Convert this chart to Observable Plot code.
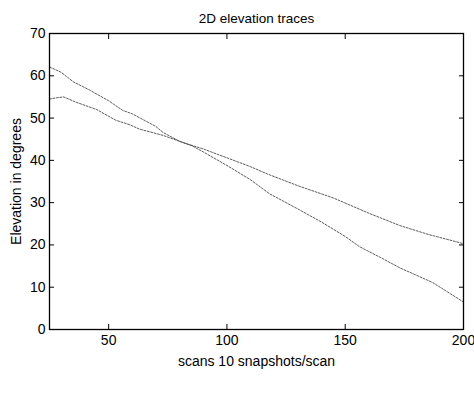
<!DOCTYPE html>
<html><head><meta charset="utf-8">
<script src="https://cdn.jsdelivr.net/npm/d3@7"></script>
<script src="https://cdn.jsdelivr.net/npm/@observablehq/plot@0.6"></script>
<style>body{margin:0;background:#fff}</style>
</head><body><div id="c"></div>
<script>
const title = "2D elevation traces";
const xLabel = "scans 10 snapshots/scan";
const yLabel = "Elevation in degrees";
const xTicks = [50, 100, 150, 200];
const yTicks = [0, 10, 20, 30, 40, 50, 60, 70];

const traceAX = [25, 30, 35, 42, 50, 56, 60, 65, 70, 73, 80, 85, 90, 100, 110, 118, 130, 140, 150, 156, 165, 173, 187, 200];
const traceAY = [62.1, 60.8, 58.6, 56.6, 54.1, 51.8, 51, 49.5, 48, 46.6, 44.5, 43.5, 42, 38.8, 35.4, 32.1, 28.5, 25.4, 22, 19.6, 17, 14.6, 11.1, 6.5];
const traceBX = [25, 28, 31, 36, 45, 53, 59, 63, 73, 82, 90, 100, 110, 117, 130, 145, 160, 173, 185, 200];
const traceBY = [54.5, 54.8, 55, 53.8, 52, 49.5, 48.4, 47.4, 45.9, 44.1, 42.7, 40.6, 38.5, 36.8, 34, 31.1, 27.5, 24.6, 22.5, 20.3];

const A = traceAX.map((x, i) => ({x, y: traceAY[i]}));
const B = traceBX.map((x, i) => ({x, y: traceBY[i]}));

const chart = Plot.plot({
  width: 474, height: 399,
  marginLeft: 49, marginRight: 11, marginTop: 33, marginBottom: 70,
  style: {fontFamily: "Liberation Sans, Arial, sans-serif", fontSize: "14px", color: "#000", background: "#fff"},
  x: {domain: [25, 200]},
  y: {domain: [0, 70]},
  marks: [
    Plot.line(A, {x: "x", y: "y", stroke: "#333", strokeWidth: 0.8, strokeDasharray: "2,1.5"}),
    Plot.line(B, {x: "x", y: "y", stroke: "#333", strokeWidth: 0.8, strokeDasharray: "2,1.5"}),
    Plot.frame({stroke: "#000", strokeWidth: 1.3}),
    Plot.axisX({anchor: "bottom", ticks: xTicks, tickSize: -5, tickPadding: 11, label: xLabel, labelAnchor: "center", labelArrow: "none", labelOffset: 36, fontSize: 14}),
    Plot.axisX({anchor: "top", ticks: xTicks, tickSize: -5, tickFormat: () => "", label: null}),
    Plot.axisY({anchor: "left", ticks: yTicks, tickSize: -5, tickPadding: 9, label: yLabel, labelAnchor: "center", labelArrow: "none", labelOffset: 38, fontSize: 14}),
    Plot.axisY({anchor: "right", ticks: yTicks, tickSize: -5, tickFormat: () => "", label: null}),
    Plot.text([title], {frameAnchor: "top", dy: -20, text: d => d, fontSize: 13.5})
  ]
});
document.getElementById("c").appendChild(chart);
</script>
</body></html>
